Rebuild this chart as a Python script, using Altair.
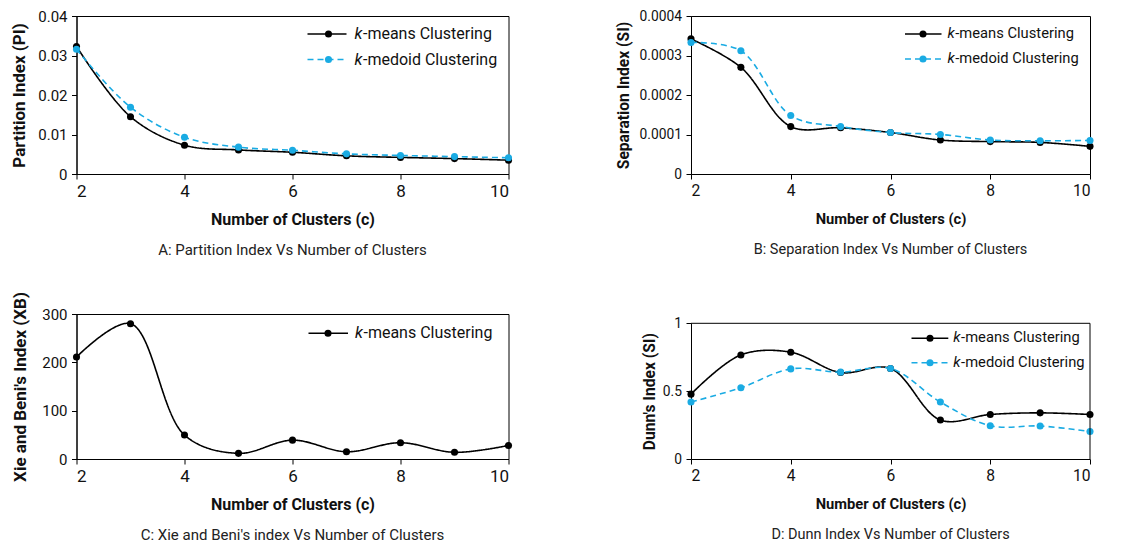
import altair as alt
import pandas as pd

# ---------------- data ----------------
clusters = [2, 3, 4, 5, 6, 7, 8, 9, 10]
series_names = ["k-means Clustering", "k-medoid Clustering"]
series_colors = ["#000000", "#1AABE3"]

pi_kmeans = [0.0323, 0.0145, 0.0073, 0.0061, 0.0055, 0.0046, 0.0042, 0.0039, 0.0035]
pi_kmedoid = [0.0316, 0.0169, 0.0093, 0.0068, 0.0060, 0.0051, 0.0047, 0.0044, 0.0041]

si_kmeans = [0.000342, 0.000270, 0.000120, 0.000117, 0.000105, 0.000086, 0.000082, 0.000080, 0.000070]
si_kmedoid = [0.000333, 0.000312, 0.000148, 0.000120, 0.000105, 0.000100, 0.000086, 0.000084, 0.000085]

xb_kmeans = [211, 280, 49.5, 11.7, 39, 15, 33.7, 13.8, 28]

dunn_kmeans = [0.478, 0.767, 0.787, 0.637, 0.667, 0.287, 0.328, 0.340, 0.328]
dunn_kmedoid = [0.420, 0.525, 0.664, 0.640, 0.667, 0.420, 0.245, 0.243, 0.203]

x_ticks = [2, 4, 6, 8, 10]
pi_ticks = [0, 0.01, 0.02, 0.03, 0.04]
si_ticks = [0, 0.0001, 0.0002, 0.0003, 0.0004]
xb_ticks = [0, 100, 200, 300]
dunn_ticks = [0, 0.5, 1]

x_title = "Number of Clusters (c)"
y_titles = ["Partition Index (PI)", "Separation Index (SI)",
            "Xie and Beni's Index (XB)", "Dunn's Index (SI)"]
captions = ["A: Partition Index Vs Number of Clusters",
            "B: Separation Index Vs Number of Clusters",
            "C: Xie and Beni's index Vs Number of Clusters",
            "D: Dunn Index Vs Number of Clusters"]

FONT = "Roboto"
DASH = [6, 4]


def legend_layers(names, lx1, lx2, px, tx, ys, fs):
    layers = []
    for name, yy in zip(names, ys):
        i = series_names.index(name)
        col = series_colors[i]
        k_part, rest = name.split("-", 1)
        d = pd.DataFrame({"k": [k_part], "rest": ["-" + rest]})
        rule_kw = dict(color=col, strokeWidth=1.6)
        if i == 1:
            rule_kw["strokeDash"] = DASH
        layers.append(alt.Chart(d).mark_rule(**rule_kw).encode(
            x=alt.value(lx1), x2=alt.value(lx2), y=alt.value(yy)))
        layers.append(alt.Chart(d).mark_circle(size=50, opacity=1, color=col).encode(
            x=alt.value(px), y=alt.value(yy)))
        layers.append(alt.Chart(d).mark_text(
            align="left", baseline="middle", fontStyle="italic", fontSize=fs,
            font=FONT, color="#111").encode(
            x=alt.value(tx), y=alt.value(yy), text="k:N"))
        layers.append(alt.Chart(d).mark_text(
            align="left", baseline="middle", fontSize=fs, font=FONT,
            color="#111").encode(
            x=alt.value(tx + fs * 0.53), y=alt.value(yy), text="rest:N"))
    return layers


def make_panel(caption, ytitle, yticks, series, width, height, ext, leg, s=1.0,
               yrange=None, own_frame=False):
    rows = [{"c": c, "v": v, "s": name}
            for name, vals in series for c, v in zip(clusters, vals)]
    df = pd.DataFrame(rows)
    names = [n for n, _ in series]
    colors = [series_colors[series_names.index(n)] for n in names]
    dashes = [[1, 0] if n == series_names[0] else DASH for n in names]

    ysc = dict(domain=[yticks[0], yticks[-1]], nice=False, zero=True)
    if yrange is not None:
        ysc["range"] = yrange

    xlab = 17 * s
    xtit = 16 * s
    x = alt.X("c:Q", scale=alt.Scale(domain=[2, 10], nice=False),
              axis=alt.Axis(values=x_ticks, title=x_title, labelFontSize=xlab,
                            titleFontSize=xtit,
                            titlePadding=12.5 + (17 - xlab)))
    y = alt.Y("v:Q", scale=alt.Scale(**ysc),
              axis=alt.Axis(values=yticks, format="~r", title=ytitle,
                            labelFontSize=15 * s, titleFontSize=17 * s,
                            minExtent=ext, maxExtent=ext))
    color = alt.Color("s:N", scale=alt.Scale(domain=names, range=colors), legend=None)
    dash = alt.StrokeDash("s:N", scale=alt.Scale(domain=names, range=dashes), legend=None)

    base = alt.Chart(df).encode(x=x, y=y, color=color)
    lines = base.mark_line(interpolate="catmull-rom", strokeWidth=1.6).encode(strokeDash=dash)
    pts = base.mark_circle(size=50, opacity=1)
    layers = [lines, pts]

    if own_frame:
        fd = pd.DataFrame({"a": [0]})
        layers.append(alt.Chart(fd).mark_rule(color="#000", strokeWidth=1).encode(
            x=alt.datum(2), x2=alt.datum(10), y=alt.datum(yticks[-1])))
        layers.append(alt.Chart(fd).mark_rule(color="#000", strokeWidth=1).encode(
            x=alt.datum(10), y=alt.datum(yticks[0]), y2=alt.datum(yticks[-1])))

    layers += legend_layers(names, *leg, fs=16 * s)

    props = dict(width=width, height=height,
                 title=alt.TitleParams(caption, orient="bottom", frame="group",
                                       anchor="middle",
                                       offset=15 + (16 - xtit) * 1.5,
                                       fontSize=15 if s == 1.0 else 14.5,
                                       font=FONT, fontWeight="normal", color="#222"))
    if own_frame:
        props["view"] = alt.ViewBackground(stroke="transparent")
    return alt.layer(*layers).properties(**props)


SB = 0.92
A = make_panel(captions[0], y_titles[0], pi_ticks,
               [(series_names[0], pi_kmeans), (series_names[1], pi_kmedoid)],
               432, 158, 48.5, (231, 270, 252, 278, [18, 43.5]))
B = make_panel(captions[1], y_titles[1], si_ticks,
               [(series_names[0], si_kmeans), (series_names[1], si_kmedoid)],
               399, 158, 59.9, (214, 250.5, 232, 256.5, [18, 43]), s=SB)
C = make_panel(captions[2], y_titles[2], xb_ticks,
               [(series_names[0], xb_kmeans)],
               432, 145, 46.8, (232, 271.5, 251.5, 278.5, [19.3]))
D = make_panel(captions[3], y_titles[3], dunn_ticks,
               [(series_names[0], dunn_kmeans), (series_names[1], dunn_kmedoid)],
               399, 145, 33.2, (220.5, 257.3, 239, 262.3, [24.3, 48.7]), s=SB,
               yrange=[145, 9.3], own_frame=True)

chart = alt.concat(A, B, C, D, columns=2, spacing={"row": 33, "column": 100.5}).properties(
    padding={"left": 1.5, "top": 0, "right": 5, "bottom": 5}
).configure_view(stroke="#000", strokeWidth=1).configure_axis(
    grid=False, domainColor="#000", tickColor="#000", labelColor="#111",
    titleColor="#111", labelFont=FONT, titleFont=FONT, domainWidth=1, tickWidth=1,
    tickSize=5
).configure_axisX(
    labelPadding=4, titleFontWeight="bold"
).configure_axisY(
    labelPadding=4.5, titleFontWeight="bold", titlePadding=0
)

chart.save("out.html", embed_options={"renderer": "svg", "actions": False})
